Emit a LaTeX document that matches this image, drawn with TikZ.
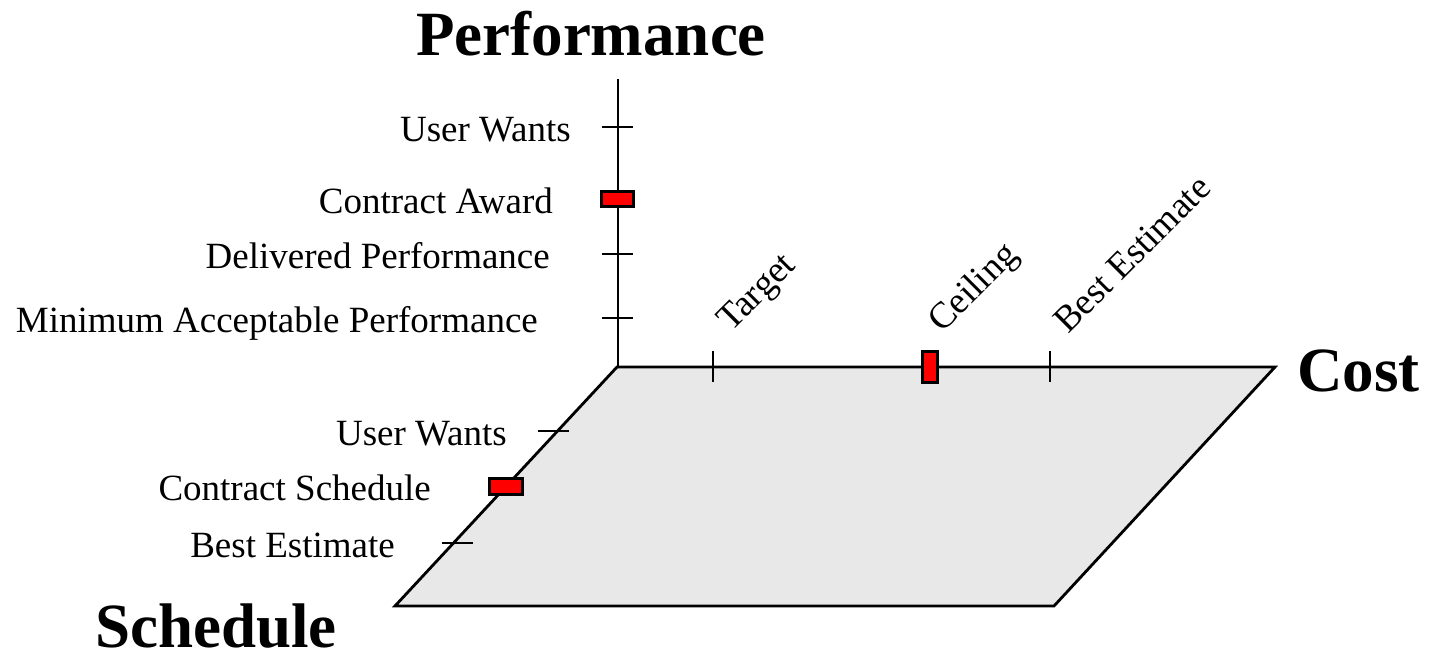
\documentclass[tikz,border=0pt]{standalone}
\usepackage{fontspec}
\setmainfont{Liberation Serif}
\begin{document}
\begin{tikzpicture}[x=1pt,y=-1pt,
  axis/.style={line width=2.8pt, line join=miter},
  tick/.style={line width=2.8pt},
  marker/.style={draw=black, fill=red, line width=2.2pt, inner sep=0pt},
  lab/.style={font=\fontsize{37}{40}\selectfont, inner sep=0pt},
  title/.style={font=\fontsize{63}{66}\selectfont\bfseries, inner sep=0pt}]
\useasboundingbox (0,0) rectangle (1430,651);
% plane
\coordinate (O) at (617,367);
\coordinate (C) at (1275,367);
\coordinate (BR) at (1054,606);
\coordinate (BL) at (395,606);
\coordinate (P) at (618,79);
\fill[fill={rgb,255:red,232;green,232;blue,232}] (O) -- (C) -- (BR) -- (BL) -- cycle;
\draw[axis] (O) -- (C) -- (BR) -- (BL) -- cycle;
\draw[axis] (P) -- (618,367);
% performance ticks
\draw[tick] (602,127) -- (633,127);
\draw[tick] (602,254) -- (633,254);
\draw[tick] (602,318) -- (633,318);
\node[marker, minimum width=32pt, minimum height=15pt] (pm) at (617.5,199) {};
% cost ticks
\draw[tick] (713,351) -- (713,382);
\draw[tick] (1050,351) -- (1050,382);
\node[marker, minimum width=15pt, minimum height=31pt] (cm) at (930,367) {};
% schedule ticks
\draw[tick] (538,431) -- (569,431);
\draw[tick] (442,543) -- (473,543);
\node[marker, minimum width=33pt, minimum height=16pt] (sm) at (506,486.5) {};
% performance labels
\node[lab, anchor=base east] (p1) at (571,141) {User Wants};
\node[lab, anchor=base east] (p2) at (553,213) {Contract Award};
\node[lab, anchor=base east] (p3) at (550,268) {Delivered Performance};
\node[lab, anchor=base east] (p4) at (538,332) {Minimum Acceptable Performance};
% cost labels
\node[lab, anchor=base west, rotate=45] (c1) at (731,333) {Target};
\node[lab, anchor=base west, rotate=45] (c2) at (942,334) {Ceiling};
\node[lab, anchor=base west, rotate=45] (c3) at (1068,335) {Best Estimate};
% schedule labels
\node[lab, anchor=base east] (s1) at (507,445) {User Wants};
\node[lab, anchor=base east] (s2) at (431,500) {Contract Schedule};
\node[lab, anchor=base east] (s3) at (395,557) {Best Estimate};
% titles
\node[title, anchor=base] (tp) at (591,55) {Performance};
\node[title, anchor=base west] (tc) at (1297,391) {Cost};
\node[title, anchor=base west] (ts) at (95,647) {Schedule};
\end{tikzpicture}
\end{document}
